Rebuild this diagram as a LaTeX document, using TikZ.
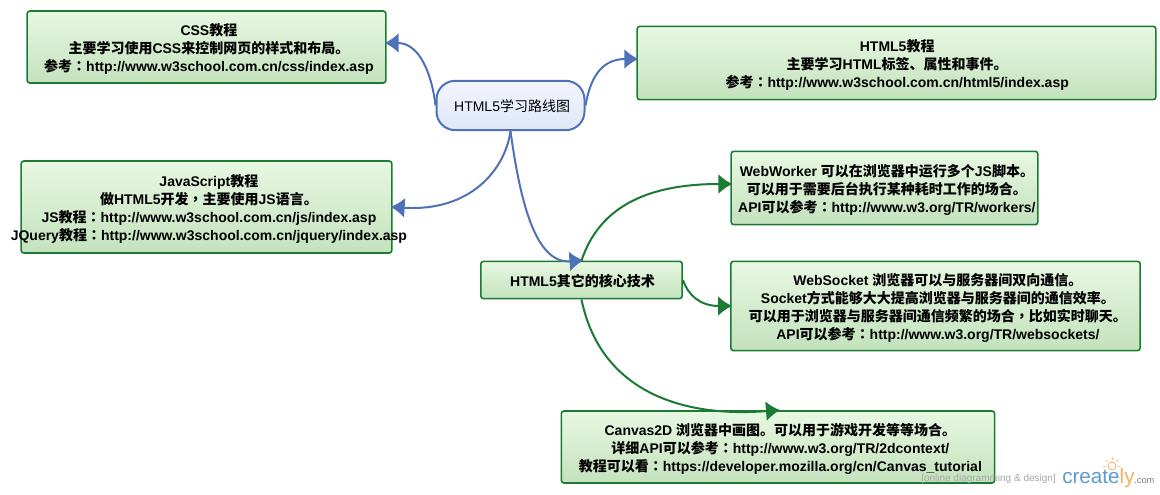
\documentclass[tikz,border=0pt]{standalone}
\usepackage{fontspec}
\setmainfont{Liberation Sans}
\newfontfamily\cjk{Noto Sans CJK SC}
\newfontfamily\cjkpunct{Noto Sans CJK TC}
\newcommand{\zh}[1]{{\cjk #1}}
\newcommand{\fw}[1]{{\cjkpunct #1}}
\newcommand{\nudge}[2][3.6pt]{\vbox{\kern3.8pt\hbox{\hspace*{#1}\begin{tabular}{@{}c@{}}#2\end{tabular}}}}
\usetikzlibrary{arrows.meta}
\definecolor{boxline}{HTML}{1B7A34}
\definecolor{boxtop}{HTML}{E8F8E2}
\definecolor{boxbottom}{HTML}{C3E2BC}
\definecolor{mapline}{HTML}{4F71B8}
\definecolor{roottop}{HTML}{F2F5FC}
\definecolor{rootbottom}{HTML}{DFE7F9}
\definecolor{logoblue}{HTML}{5B9BD0}
\definecolor{logoorange}{HTML}{F0B060}
\begin{document}
\begin{tikzpicture}[x=0.75pt,y=-0.75pt]
    \tikzstyle{every node}=[font=\fontsize{10.5pt}{13.5pt}\selectfont\bfseries, text=black, align=center, inner sep=0pt]
    \tikzstyle{topic}=[draw=boxline, line width=1.2pt, rounded corners=2pt, top color=boxtop, bottom color=boxbottom]
    \tikzstyle{edge}=[mapline, line width=1.5pt, shorten >=-1.5pt, -{Latex[length=10.5pt,width=15pt]}]
    \useasboundingbox (0,0) rectangle (1160,495);

    \node[topic, minimum width=269pt, minimum height=54pt] (css) at (206.5,47) {\nudge{CSS\zh{教程}\\\zh{主要学习使用}CSS\zh{来控制网页的样式和布局。}\\\zh{参考}\fw{：}http://www.w3school.com.cn/css/index.asp}};
    \node[topic, minimum width=389pt, minimum height=55pt] (html) at (896.5,63) {\nudge[1pt]{HTML5\zh{教程}\\\zh{主要学习}HTML\zh{标签、属性和事件。}\\\zh{参考}\fw{：}http://www.w3school.com.cn/html5/index.asp}};
    \node[draw=mapline, line width=1.5pt, rounded corners=14pt, top color=roottop, bottom color=rootbottom, minimum width=111pt, minimum height=37pt, font=\fontsize{10.5pt}{13.5pt}\selectfont] (root) at (510.5,105.5) {\nudge[2.4pt]{HTML5\zh{学习路线图}}};
    \node[topic, minimum width=278pt, minimum height=69pt] (js) at (206.5,207) {\nudge{JavaScript\zh{教程}\\\zh{做}HTML5\zh{开发}\fw{，}\zh{主要使用}JS\zh{语言。}\\JS\zh{教程}\fw{：}http://www.w3school.com.cn/js/index.asp\\\makebox[0pt]{JQuery\zh{教程}\fw{：}http://www.w3school.com.cn/jquery/index.asp}}};
    \node[topic, minimum width=151pt, minimum height=28pt] (core) at (581.5,280) {\nudge[1.5pt]{HTML5\zh{其它的核心技术}}};
    \node[topic, minimum width=230pt, minimum height=55pt] (worker) at (884.5,188) {\nudge{WebWorker \zh{可以在浏览器中运行多个}JS\zh{脚本。}\\\zh{可以用于需要后台执行某种耗时工作的场合。}\\API\zh{可以参考}\fw{：}http://www.w3.org/TR/workers/}};
    \node[topic, minimum width=307pt, minimum height=67pt] (socket) at (935.5,306) {\nudge{WebSocket \zh{浏览器可以与服务器间双向通信。}\\Socket\zh{方式能够大大提高浏览器与服务器间的通信效率。}\\\zh{可以用于浏览器与服务器间通信频繁的场合}\fw{，}\zh{比如实时聊天。}\\API\zh{可以参考}\fw{：}http://www.w3.org/TR/websockets/}};
    \node[topic, minimum width=325pt, minimum height=54pt] (canvas) at (778,447) {\nudge{Canvas2D \zh{浏览器中画图。可以用于游戏开发等等场合。}\\\zh{详细}API\zh{可以参考}\fw{：}http://www.w3.org/TR/2dcontext/\\\zh{教程可以看}\fw{：}https://developer.mozilla.org/cn/Canvas\_tutorial}};

    \draw[edge] (root.west) .. controls (432,75) and (420,43) .. ([yshift=3pt]css.east);
    \draw[edge] (root.east) .. controls (590,80) and (600,59) .. ([yshift=3pt]html.west);
    \draw[edge] (root.south) .. controls (505,170) and (470,212) .. (js.east);
    \draw[edge] (root.south) .. controls (520,200) and (535,264) .. (core.north);

    \tikzstyle{edge}=[boxline, line width=1.5pt, shorten >=-1.5pt, -{Latex[length=10.5pt,width=15pt]}]
    \draw[edge] (core.north) .. controls (600,205) and (650,184) .. ([yshift=3pt]worker.west);
    \draw[edge] (core.east) .. controls (688,295) and (700,306) .. (socket.west);
    \draw[edge] (core.south) .. controls (600,390) and (680,418) .. (canvas.north);

    \node[font=\fontsize{7.5pt}{8pt}\selectfont, text=gray!70] (tagline) at (988.5,479) {[online diagramming \& design]};
    \node[font=\fontsize{15.5pt}{16pt}\selectfont, text=logoblue, anchor=base west] (logo) at (1062,483) {create\textcolor{logoorange}{ly}};
    \node[font=\fontsize{7pt}{8pt}\selectfont, text=gray, anchor=base west] (dotcom) at (1134,483) {.com};
    \draw[logoorange, line width=0.6pt] (1112,466) circle (4);
    \foreach \a in {0,45,...,180}
        \draw[logoorange!70, line width=0.6pt] (1112,466) ++(-\a:6) -- ++(-\a:3);
\end{tikzpicture}
\end{document}
